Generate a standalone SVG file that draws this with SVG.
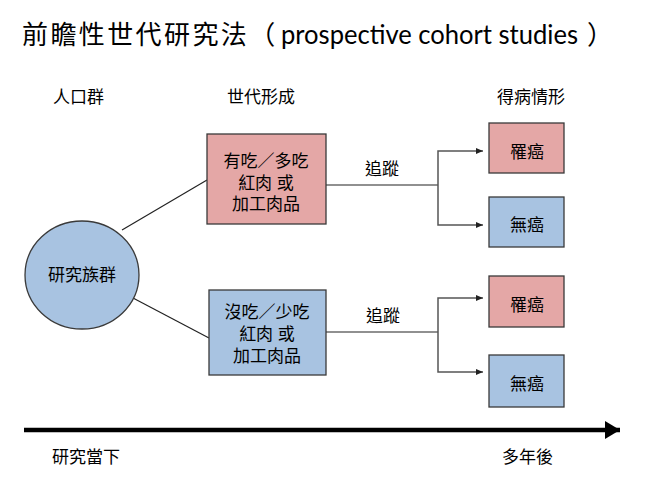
<svg xmlns="http://www.w3.org/2000/svg" width="645" height="479" viewBox="0 0 645 479">
<defs>
<style>
text{font-family:"Liberation Sans","Noto Sans CJK TC",sans-serif;fill:#000;}
.lbl{font-size:17px;}
.mid{text-anchor:middle;}
.ttl{font-size:26px;font-family:"Noto Sans CJK TC",sans-serif;}
.red{fill:#e4a7a6;stroke:#3a3a3a;stroke-width:1.3;}
.blue{fill:#a8c3e1;stroke:#3a3a3a;stroke-width:1.3;}
.ln{stroke:#222;stroke-width:1.2;fill:none;}
.br{stroke:#555;stroke-width:1.5;fill:none;}
</style>
<marker id="ah" markerWidth="8" markerHeight="8" refX="7" refY="4" orient="auto" markerUnits="userSpaceOnUse">
<path d="M0,1 L7,4 L0,7 Z" fill="#222"/>
</marker>
<marker id="big" markerWidth="16" markerHeight="18" refX="15" refY="9" orient="auto" markerUnits="userSpaceOnUse">
<path d="M0,0 L15,9 L0,18 Z" fill="#000"/>
</marker>
</defs>
<rect width="645" height="479" fill="#fff"/>
<text class="ttl" x="22" y="44" letter-spacing="2.4">前瞻性世代研究法（</text>
<text x="281" y="44" style="font-size:26px;font-family:Lato,'Open Sans',sans-serif" textLength="297" lengthAdjust="spacingAndGlyphs">prospective cohort studies</text>
<text class="ttl" x="587" y="44">）</text>
<text class="lbl" x="53" y="103">人口群</text>
<text class="lbl" x="227" y="103">世代形成</text>
<text class="lbl" x="497" y="103">得病情形</text>
<g id="connectors">
<line class="ln" x1="122" y1="230" x2="207" y2="180"/>
<line class="ln" x1="133" y1="298" x2="209" y2="338"/>
<line class="ln" x1="326" y1="185" x2="438" y2="185"/>
<path class="br" d="M438,185 V151 H483" marker-end="url(#ah)"/>
<path class="br" d="M438,185 V225 H483" marker-end="url(#ah)"/>
<line class="ln" x1="326" y1="332" x2="438" y2="332"/>
<path class="br" d="M438,332 V298 H483" marker-end="url(#ah)"/>
<path class="br" d="M438,332 V372 H483" marker-end="url(#ah)"/>
<line x1="24" y1="430" x2="620" y2="430" stroke="#000" stroke-width="4.5" marker-end="url(#big)"/>
</g>
<text class="lbl mid" x="382" y="175">追蹤</text>
<text class="lbl mid" x="383" y="322">追蹤</text>
<g id="cohort">
<ellipse class="blue" cx="82" cy="275" rx="57" ry="54"/>
<text class="lbl mid" x="82" y="281">研究族群</text>
</g>
<g id="exposed">
<rect class="red" x="207" y="134" width="119" height="90"/>
<text class="lbl mid" x="266" y="167">有吃／多吃</text>
<text class="lbl mid" x="266" y="189">紅肉 或</text>
<text class="lbl mid" x="266" y="210">加工肉品</text>
</g>
<g id="unexposed">
<rect class="blue" x="209" y="290" width="117" height="85"/>
<text class="lbl mid" x="267" y="318">沒吃／少吃</text>
<text class="lbl mid" x="267" y="340">紅肉 或</text>
<text class="lbl mid" x="267" y="362">加工肉品</text>
</g>
<g id="cancer1">
<rect class="red" x="489" y="123" width="75" height="50"/>
<text class="lbl mid" x="527" y="158">罹癌</text>
</g>
<g id="nocancer1">
<rect class="blue" x="489" y="197" width="75" height="50"/>
<text class="lbl mid" x="527" y="231">無癌</text>
</g>
<g id="cancer2">
<rect class="red" x="489" y="276" width="75" height="51"/>
<text class="lbl mid" x="527" y="311">罹癌</text>
</g>
<g id="nocancer2">
<rect class="blue" x="489" y="355" width="75" height="52"/>
<text class="lbl mid" x="527" y="390">無癌</text>
</g>
<text class="lbl" x="52" y="463">研究當下</text>
<text class="lbl" x="502" y="463">多年後</text>
</svg>
